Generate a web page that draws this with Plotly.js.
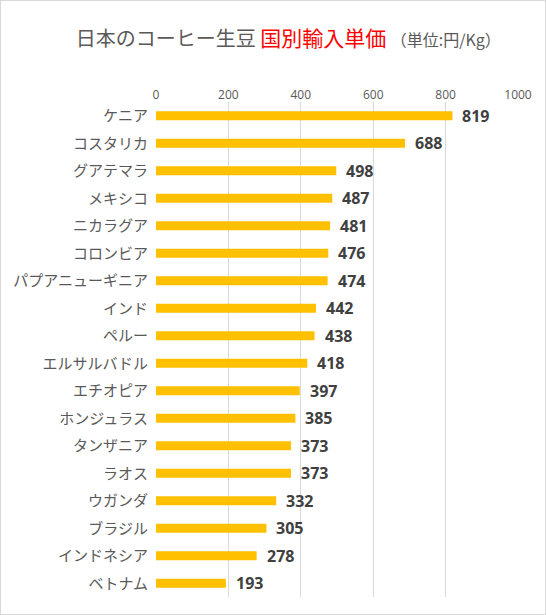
<!DOCTYPE html>
<html><head><meta charset="utf-8">
<script src="https://cdn.plot.ly/plotly-3.0.1.min.js"></script>
<style>
html,body{margin:0;padding:0;background:#fff;}
#frame{position:absolute;left:0;top:0;width:544px;height:613px;border:1px solid #d9d9d9;}
#chart{position:absolute;left:0;top:0;width:546px;height:615px;}
</style></head>
<body>
<div id="frame"></div>
<div id="chart"></div>
<script>
const countries = ["ケニア","コスタリカ","グアテマラ","メキシコ","ニカラグア","コロンビア","パプアニューギニア","インド","ペルー","エルサルバドル","エチオピア","ホンジュラス","タンザニア","ラオス","ウガンダ","ブラジル","インドネシア","ベトナム"];
const prices = [819,688,498,487,481,476,474,442,438,418,397,385,373,373,332,305,278,193];
const tickValues = [0,200,400,600,800,1000];

const jp = '"Noto Sans CJK JP", "Noto Sans", sans-serif';

const trace = {
  type: 'bar', orientation: 'h',
  x: prices, y: countries,
  marker: {color: '#FFC000'},
  width: 0.33,
  hoverinfo: 'none'
};

const annotations = prices.map((v,i)=>({
  x: v, y: countries[i], xref:'x', yref:'y',
  text: String(v), showarrow:false, xanchor:'left', xshift: 8,
  font:{family:'"Open Sans", "DejaVu Sans", sans-serif', size:16, color:'#404040', weight:700}
}));

const layout = {
  width: 546, height: 615,
  paper_bgcolor: 'rgba(0,0,0,0)', plot_bgcolor: 'rgba(0,0,0,0)',
  margin: {l:156, r:28, t:102, b:18},
  title: {
    text: '日本のコーヒー生豆 <span style="color:#FF0000;font-size:21px">国別輸入単価</span> <span style="font-size:16px">（単位:円/Kg）</span>',
    font: {family: jp, size: 20, color: '#595959'},
    x: 0.528, xanchor: 'center', y: 0.937, yanchor: 'middle'
  },
  xaxis: {
    side: 'top', range: [0,1000], tickvals: tickValues, ticktext: tickValues.map(String),
    showgrid: true, gridcolor: '#d9d9d9', gridwidth: 1, zeroline: false, showline: false,
    tickfont: {family: '"Open Sans", sans-serif', size: 12, color: '#595959'},
    ticks: '', ticklen: 0, fixedrange: true
  },
  yaxis: {
    autorange: 'reversed', showgrid: false, showline: false, zeroline:false,
    tickfont: {family: jp, size: 15, color: '#595959'},
    ticks: '', ticklabelstandoff: 7
  },
  annotations: annotations,
  showlegend: false
};

Plotly.newPlot('chart', [trace], layout, {displayModeBar: false, staticPlot: true});
</script>
</body></html>
